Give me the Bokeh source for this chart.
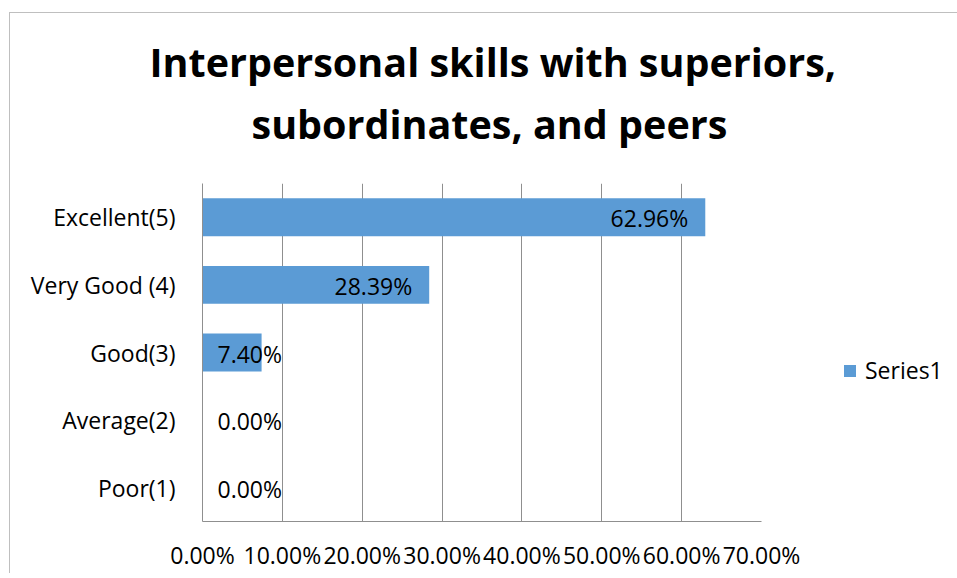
from bokeh.plotting import figure
from bokeh.models import (Range1d, FactorRange, NumeralTickFormatter, FixedTicker,
                          Title, Legend, LegendItem, ColumnDataSource)
from bokeh.core.properties import value
from bokeh.embed import file_html
from bokeh.resources import INLINE

# ---- data ----
categories = ["Poor(1)", "Average(2)", "Good(3)", "Very Good (4)", "Excellent(5)"]
values = [0.0, 0.0, 0.0740, 0.2839, 0.6296]
value_labels = ["0.00%", "0.00%", "7.40%", "28.39%", "62.96%"]
x_ticks = [0.0, 0.1, 0.2, 0.3, 0.4, 0.5, 0.6, 0.7]
series_name = "Series1"
title_line1 = "Interpersonal skills with superiors,"
title_line2 = "subordinates, and peers"

FONT = "Open Sans"
BAR = "#5b9bd5"
GRID = "#8f8f8f"

W, H = 939, 557
ML, MT = 192, 170
FW, FH = 559, 338

p = figure(frame_width=FW, frame_height=FH, output_backend="svg", toolbar_location=None,
           y_range=FactorRange(factors=categories, range_padding=0),
           x_range=Range1d(0, 0.7),
           min_border_left=ML, min_border_top=MT,
           min_border_right=W - ML - FW, min_border_bottom=H - MT - FH,
           title=None)
p.styles = {"border-left": "1px solid #bfbfbf", "border-top": "1px solid #bfbfbf",
            "margin-left": "9px", "margin-top": "12px"}
p.outline_line_color = None
p.background_fill_color = "white"
p.border_fill_color = "white"

src = ColumnDataSource(dict(cat=categories, val=values, lab=value_labels))
r = p.hbar(y="cat", right="val", left=0, height=0.56, source=src,
           fill_color=BAR, line_color=None)

# value labels: inside end when the bar is long enough, else just right of axis
big = [i for i, v in enumerate(values) if v > 0.15]
small = [i for i, v in enumerate(values) if v <= 0.15]
p.text(x=[values[i] for i in big], y=[categories[i] for i in big],
       text=[value_labels[i] for i in big], text_align="right", text_baseline="middle",
       x_offset=-17, y_offset=1, text_font=value(FONT), text_font_size="23px", text_color="black")
p.text(x=[0.0 for i in small], y=[categories[i] for i in small],
       text=[value_labels[i] for i in small], text_align="left", text_baseline="middle",
       x_offset=15, y_offset=1, text_font=value(FONT), text_font_size="23px", text_color="black")

# axes
p.xaxis.ticker = FixedTicker(ticks=x_ticks)
p.xaxis.formatter = NumeralTickFormatter(format="0.00%")
p.xaxis.major_tick_out = 0
p.xaxis.major_tick_in = 0
p.xaxis.minor_tick_line_color = None
p.xaxis.axis_line_color = GRID
p.xaxis.major_label_standoff = 17
p.xaxis.major_label_text_font = FONT
p.xaxis.major_label_text_font_size = "23px"
p.xaxis.major_label_text_color = "black"

p.yaxis.major_tick_out = 0
p.yaxis.major_tick_in = 0
p.yaxis.axis_line_color = GRID
p.yaxis.major_label_standoff = 27
p.yaxis.major_label_text_font = FONT
p.yaxis.major_label_text_font_size = "23px"
p.yaxis.major_label_text_color = "black"

p.xgrid.grid_line_color = GRID
p.ygrid.grid_line_color = None

# titles: first added sits closest to the plot; a blank spacer keeps the gap
p.add_layout(Title(text=" ", standoff=14, text_font=FONT, text_font_size="10px"), "above")
p.add_layout(Title(text=title_line2, align="left", offset=49, standoff=6,
                   text_font=FONT, text_font_size="39.5px", text_font_style="bold",
                   text_color="black"), "above")
p.add_layout(Title(text=title_line1, align="left", offset=-53, standoff=5,
                   text_font=FONT, text_font_size="39.5px", text_font_style="bold",
                   text_color="black"), "above")

legend = Legend(items=[LegendItem(label=series_name, renderers=[r])],
                location=(81, 135), padding=0, margin=0, spacing=0,
                glyph_width=15, glyph_height=15, label_standoff=8,
                label_text_font=FONT, label_text_font_size="23px",
                label_text_color="black",
                border_line_color=None, background_fill_alpha=0)
p.add_layout(legend, "right")

open("out.html", "w").write(file_html(p, INLINE))
